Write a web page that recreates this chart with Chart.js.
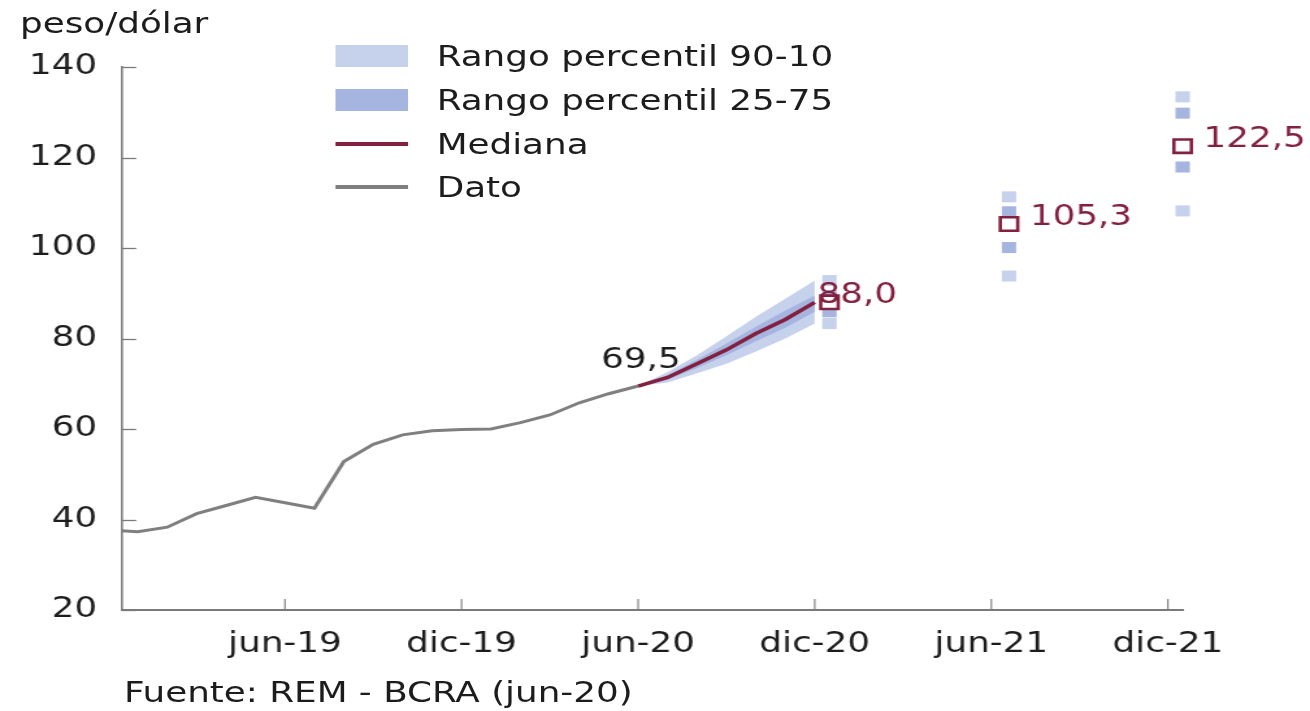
<!DOCTYPE html>
<html><head><meta charset="utf-8">
<script src="https://cdn.jsdelivr.net/npm/chart.js@4.4.0/dist/chart.umd.min.js"></script>
<style>
html,body{margin:0;padding:0;background:#fff;overflow:hidden;width:1310px;height:711px;}
#wrap{position:absolute;left:0;top:0;width:1008px;height:711px;transform:scaleX(1.2996);transform-origin:0 0;font-family:"DejaVu Sans";color:#1c1c1c;}
#wrap canvas{position:absolute;left:0;top:0;}
.t{position:absolute;font-size:27.5px;line-height:27.5px;white-space:nowrap;}
.p{position:absolute;}
</style></head><body>
<div id="wrap">
<canvas id="c" width="1008" height="711"></canvas>
<div class="t" style="left:15.4px;top:10px">peso/dólar</div>
<div class="t" style="left:95.4px;top:679px">Fuente: REM - BCRA (jun-20)</div>
<div id="legend"></div>
</div>
<script>
// ---- data ----
const xTickPos = [5, 11, 17, 23, 29, 35];            // month index (ene-19 = 0)
const xTickLabels = ['jun-19', 'dic-19', 'jun-20', 'dic-20', 'jun-21', 'dic-21'];
const yTicks = [20, 40, 60, 80, 100, 120, 140];

const datoMonths = [-1, 0, 1, 2, 3, 4, 5, 6, 7, 8, 9, 10, 11, 12, 13, 14, 15, 16, 17];
const datoValues = [37.7, 37.3, 38.3, 41.3, 43.1, 44.9, 43.7, 42.5, 52.8, 56.6, 58.7, 59.6, 59.9, 60.0, 61.4, 63.1, 65.8, 67.8, 69.5];

const fcMonths = [17, 18, 19, 20, 21, 22, 23];
const fcMedian = [69.5, 71.4, 74.4, 77.5, 81.1, 84.2, 88.0];
const fcP90    = [69.5, 72.6, 76.3, 80.5, 84.8, 88.8, 92.8];
const fcP75    = [69.5, 71.9, 75.3, 78.9, 82.6, 86.2, 89.5];
const fcP25    = [69.5, 70.9, 73.5, 76.3, 79.4, 82.4, 85.9];
const fcP10    = [69.5, 70.3, 72.3, 74.4, 77.1, 80.0, 83.3];

const rangeMonths = [23.5, 29.6, 35.5];
const rangeP90 = [92.8, 111.3, 133.4];
const rangeP75 = [89.5, 108.0, 129.8];
const rangeMed = [88.0, 105.3, 122.5];
const rangeP25 = [85.9, 100.1, 117.9];
const rangeP10 = [83.3, 93.8, 108.2];

const legendLabels = ['Rango percentil 90-10', 'Rango percentil 25-75', 'Mediana', 'Dato'];

// ---- styles ----
const LIGHT = '#c6d1ec';
const MID = '#a6b5e0';
const MAROON = '#82203f';
const GRAY = '#7f7f7f';
const AXIS = '#7a7a7a';
const TEXT = '#1c1c1c';
const FONT = '"DejaVu Sans"';
const FSIZE = 27.5;

const pts = (xs, ys) => xs.map((x, i) => ({x: x, y: ys[i]}));
const fmt = v => v.toFixed(1).replace('.', ',');

// legend (HTML)
(function () {
  const lg = document.getElementById('legend');
  const kinds = [['box', LIGHT], ['box', MID], ['line', MAROON], ['line', GRAY]];
  const centers = [56, 100, 144, 187];
  kinds.forEach((k, i) => {
    const sw = document.createElement('div');
    sw.className = 'p';
    sw.style.left = '257.7px';
    sw.style.width = '56px';
    sw.style.background = k[1];
    if (k[0] === 'box') { sw.style.top = (centers[i] - 11) + 'px'; sw.style.height = '22px'; }
    else { sw.style.top = (centers[i] - 1.75) + 'px'; sw.style.height = '3.5px'; }
    lg.appendChild(sw);
    const tx = document.createElement('div');
    tx.className = 't';
    tx.style.left = '336px';
    tx.style.top = (centers[i] + 10 - 23.3) + 'px';
    tx.textContent = legendLabels[i];
    lg.appendChild(tx);
  });
})();

const tickMarks = {
  id: 'tickMarks',
  beforeDatasetsDraw(chart) {
    const {ctx, chartArea: a, scales: {x, y}} = chart;
    ctx.save();
    ctx.strokeStyle = AXIS;
    ctx.lineWidth = 1.3;
    yTicks.forEach(v => {
      const py = Math.round(y.getPixelForValue(v)) + 0.5;
      ctx.beginPath(); ctx.moveTo(a.left, py); ctx.lineTo(a.left + 11, py); ctx.stroke();
    });
    ctx.lineWidth = 1.1;
    xTickPos.forEach(v => {
      const px = x.getPixelForValue(v);
      ctx.beginPath(); ctx.moveTo(px, a.bottom); ctx.lineTo(px, a.bottom - 11); ctx.stroke();
    });
    ctx.restore();
  }
};

const valueLabels = {
  id: 'valueLabels',
  afterDatasetsDraw(chart) {
    const {ctx, scales: {x, y}} = chart;
    ctx.save();
    ctx.font = FSIZE + 'px ' + FONT;
    ctx.textBaseline = 'alphabetic';
    const li = datoValues.length - 1;
    ctx.fillStyle = TEXT;
    ctx.textAlign = 'center';
    ctx.fillText(fmt(datoValues[li]), x.getPixelForValue(datoMonths[li]) + 2, y.getPixelForValue(datoValues[li]) - 18);
    ctx.fillStyle = MAROON;
    ctx.textAlign = 'left';
    const mi = fcMedian.length - 1;
    ctx.fillText(fmt(fcMedian[mi]), x.getPixelForValue(fcMonths[mi]) + 2, y.getPixelForValue(fcMedian[mi]) + 1);
    for (let i = 1; i < rangeMonths.length; i++) {
      ctx.fillText(fmt(rangeMed[i]), x.getPixelForValue(rangeMonths[i]) + 16, y.getPixelForValue(rangeMed[i]) + 1);
    }
    ctx.restore();
  }
};

const sq = (data, color, r, order) => ({
  data: data, showLine: false, pointStyle: 'rect', pointRadius: r, pointHoverRadius: r,
  pointBackgroundColor: color, pointBorderWidth: 0, borderWidth: 0, order: order, clip: false
});

const datasets = [
  sq(pts(rangeMonths, rangeP90), LIGHT, 7.8, 0),                    // 0
  sq(pts(rangeMonths, rangeP10), LIGHT, 7.8, 0),                    // 1
  sq(pts(rangeMonths, rangeP75), MID, 7.8, 0),                      // 2
  sq(pts(rangeMonths, rangeP25), MID, 7.8, 0),                      // 3
  { data: pts(rangeMonths, rangeMed), showLine: false, pointStyle: 'rect', pointRadius: 9.5,
    pointBackgroundColor: '#ffffff', pointBorderColor: MAROON, pointBorderWidth: 2.6, order: -1, clip: false }, // 4
  { data: pts(fcMonths, fcMedian), borderColor: MAROON, borderWidth: 3.5, pointRadius: 0, tension: 0, fill: false, order: 1 }, // 5
  { data: pts(datoMonths, datoValues), borderColor: GRAY, borderWidth: 3, pointRadius: 0, tension: 0, fill: false, order: 2 }, // 6
  { data: pts(fcMonths, fcP75), borderWidth: 0, borderColor: 'rgba(0,0,0,0)', backgroundColor: MID, pointRadius: 0, tension: 0, fill: 8, order: 3 }, // 7
  { data: pts(fcMonths, fcP25), borderWidth: 0, borderColor: 'rgba(0,0,0,0)', pointRadius: 0, tension: 0, fill: false, order: 3 }, // 8
  { data: pts(fcMonths, fcP90), borderWidth: 0, borderColor: 'rgba(0,0,0,0)', backgroundColor: LIGHT, pointRadius: 0, tension: 0, fill: 10, order: 4 }, // 9
  { data: pts(fcMonths, fcP10), borderWidth: 0, borderColor: 'rgba(0,0,0,0)', pointRadius: 0, tension: 0, fill: false, order: 4 }  // 10
];

new Chart(document.getElementById('c'), {
  type: 'line',
  data: { datasets: datasets },
  plugins: [tickMarks, valueLabels],
  options: {
    responsive: false,
    maintainAspectRatio: false,
    devicePixelRatio: 1,
    animation: false,
    events: [],
    layout: { padding: { top: 67, right: 98, left: 0, bottom: 0 } },
    plugins: { legend: { display: false }, tooltip: { enabled: false } },
    scales: {
      x: {
        type: 'linear', min: -0.54, max: 35.5,
        grid: { display: false, drawTicks: false },
        border: { display: true, color: AXIS, width: 2 },
        afterBuildTicks: s => { s.ticks = xTickPos.map(v => ({ value: v })); },
        afterFit: s => { s.height = 101; },
        ticks: {
          autoSkip: false, maxRotation: 0, padding: 18, color: TEXT,
          font: { family: FONT, size: FSIZE },
          callback: v => { const i = xTickPos.indexOf(v); return i >= 0 ? xTickLabels[i] : ''; }
        }
      },
      y: {
        min: 20, max: 140,
        grid: { display: false, drawTicks: false },
        border: { display: true, color: AXIS, width: 1.6 },
        afterBuildTicks: s => { s.ticks = yTicks.map(v => ({ value: v })); },
        afterFit: s => { s.width = 93.8; },
        ticks: { padding: 19, color: TEXT, font: { family: FONT, size: FSIZE } }
      }
    }
  }
});
</script>
</body></html>
